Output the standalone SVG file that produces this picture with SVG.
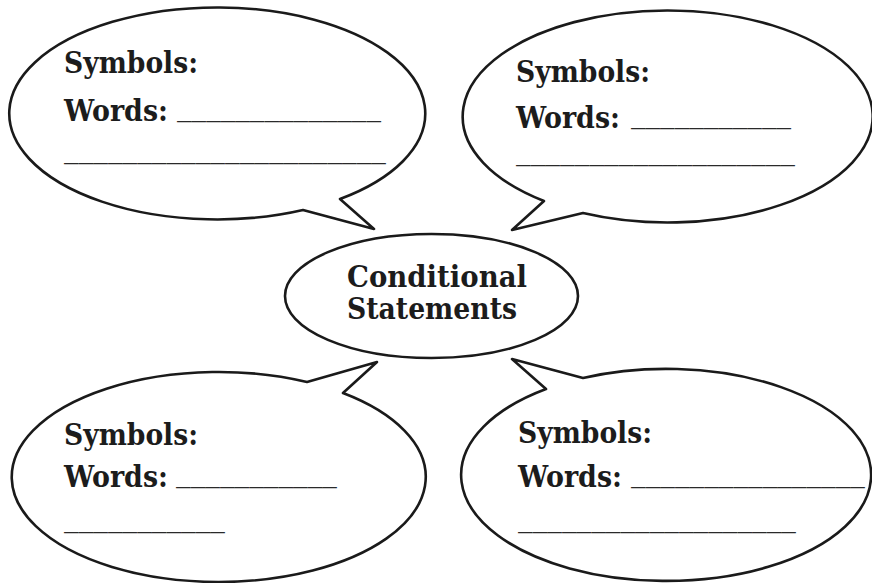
<svg xmlns="http://www.w3.org/2000/svg" width="872" height="583" viewBox="0 0 872 583">
  <style>
    .bubble { fill: #ffffff; stroke: #1a1a1a; stroke-width: 2.6; stroke-linejoin: round; }
    .lbl { font-family: "DejaVu Serif", "Liberation Serif", serif; font-weight: bold; font-size: 30px; fill: #1c1c1c; }
    .blank { font-family: "DejaVu Serif", "Liberation Serif", serif; font-size: 28px; fill: #2a2a2a; }
  </style>
  <rect width="872" height="583" fill="#ffffff"/>

  <!-- speech bubbles, tails point toward the centre oval -->
  <g id="connectors"></g>

  <g id="bubble-top-left">
    <path class="bubble" d="M 340,199 L 374,229 L 303,210 A 208 106 0 1 1 340,199 Z"/>
    <text class="lbl" x="64" y="73" textLength="134" lengthAdjust="spacingAndGlyphs">Symbols:</text>
    <text class="lbl" x="64" y="121" textLength="104" lengthAdjust="spacingAndGlyphs">Words:</text>
    <text class="blank" x="177" y="116" textLength="204" lengthAdjust="spacingAndGlyphs">______________</text>
    <text class="blank" x="64" y="158" textLength="322" lengthAdjust="spacingAndGlyphs">______________________</text>
  </g>

  <g id="bubble-top-right">
    <path class="bubble" d="M 583,213 L 512,230 L 544,201 A 205 106 0 1 1 583,213 Z"/>
    <text class="lbl" x="516" y="82" textLength="134" lengthAdjust="spacingAndGlyphs">Symbols:</text>
    <text class="lbl" x="516" y="128" textLength="104" lengthAdjust="spacingAndGlyphs">Words:</text>
    <text class="blank" x="631" y="123" textLength="160" lengthAdjust="spacingAndGlyphs">___________</text>
    <text class="blank" x="516" y="160" textLength="279" lengthAdjust="spacingAndGlyphs">___________________</text>
  </g>

  <g id="bubble-bottom-left">
    <path class="bubble" d="M 307,382 L 377,362 L 343,393 A 207 105 0 1 1 307,382 Z"/>
    <text class="lbl" x="64" y="445" textLength="134" lengthAdjust="spacingAndGlyphs">Symbols:</text>
    <text class="lbl" x="64" y="487" textLength="104" lengthAdjust="spacingAndGlyphs">Words:</text>
    <text class="blank" x="176" y="482" textLength="161" lengthAdjust="spacingAndGlyphs">___________</text>
    <text class="blank" x="64" y="527" textLength="161" lengthAdjust="spacingAndGlyphs">___________</text>
  </g>

  <g id="bubble-bottom-right">
    <path class="bubble" d="M 546,389 L 512,359 L 583,378 A 205 106 0 1 1 546,389 Z"/>
    <text class="lbl" x="518" y="443" textLength="134" lengthAdjust="spacingAndGlyphs">Symbols:</text>
    <text class="lbl" x="518" y="487" textLength="104" lengthAdjust="spacingAndGlyphs">Words:</text>
    <text class="blank" x="631" y="482" textLength="234" lengthAdjust="spacingAndGlyphs">________________</text>
    <text class="blank" x="518" y="527" textLength="278" lengthAdjust="spacingAndGlyphs">___________________</text>
  </g>

  <g id="centre">
    <ellipse class="bubble" cx="431.5" cy="296" rx="146.5" ry="62"/>
    <text class="lbl" x="347" y="287" textLength="180" lengthAdjust="spacingAndGlyphs">Conditional</text>
    <text class="lbl" x="347" y="319" textLength="170" lengthAdjust="spacingAndGlyphs">Statements</text>
  </g>
</svg>
